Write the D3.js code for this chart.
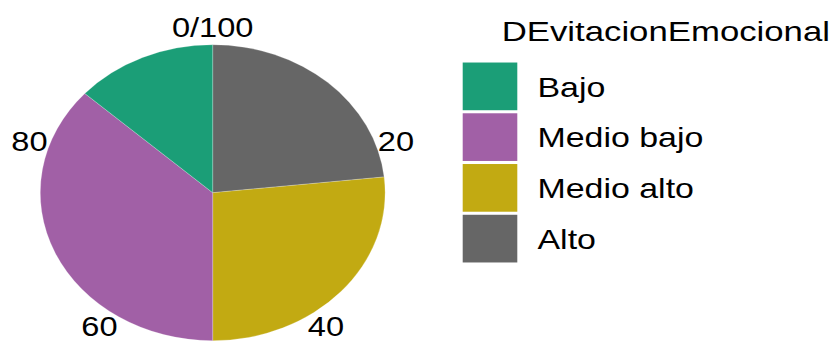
<!DOCTYPE html>
<html>
<head>
<meta charset="utf-8">
<script src="https://cdn.jsdelivr.net/npm/d3@7"></script>
<style>
  html, body { margin: 0; padding: 0; background: #fff; }
  svg { display: block; }
  text { font-family: "Liberation Sans", Arial, Helvetica, sans-serif; fill: #000; }
</style>
</head>
<body>
<svg id="chart" width="833" height="341"></svg>
<script>
// Share of each level (%), in stacking order clockwise from the top
const categories = ["Alto", "Medio alto", "Medio bajo", "Bajo"];
const values = [23.3, 26.7, 36.7, 13.3];
const legendOrder = ["Bajo", "Medio bajo", "Medio alto", "Alto"];
const colors = ["#666666", "#C2AA12", "#A160A6", "#1B9E77"];
const tickValues = [0, 20, 40, 60, 80];
const tickLabels = ["0/100", "20", "40", "60", "80"];
const legendTitle = "DEvitacionEmocional";

const svg = d3.select("#chart");
const sx = 1.165;            // horizontal stretch of the whole figure
const cx = 212.7, cy = 192.7, r = 148;

const color = d3.scaleOrdinal().domain(categories).range(colors);
const theta = d3.scaleLinear().domain([0, 100]).range([0, 2 * Math.PI]);

const data = categories.map((c, i) => ({ cat: c, value: values[i] }));
const pie = d3.pie().sort(null).value(d => d.value)
  .startAngle(theta(0)).endAngle(theta(100));
const arc = d3.arc().innerRadius(0).outerRadius(r);

const g = svg.append("g").attr("transform", `translate(${cx},${cy}) scale(${sx},1)`);
g.selectAll("path").data(pie(data)).join("path")
  .attr("d", arc)
  .attr("fill", d => color(d.data.cat))
  .attr("stroke", "#ffffff")
  .attr("stroke-opacity", 0.35)
  .attr("stroke-width", 0.6);

// angular axis labels
const rlx = 192.7 / sx, rly = 166;
svg.append("g").selectAll("text").data(tickValues).join("text")
  .attr("transform", d => {
    const a = theta(d);
    const x = cx + rlx * sx * Math.sin(a);
    const y = cy - rly * Math.cos(a) - (Math.cos(a) < -0.5 ? 1 : 0);
    return `translate(${x},${y}) scale(${sx + 0.02},1)`;
  })
  .attr("text-anchor", "middle")
  .attr("dy", "0.36em")
  .style("font-size", "27.5px")
  .text((d, i) => tickLabels[i]);

// legend
const lg = svg.append("g");
lg.append("text")
  .attr("transform", `translate(501.7,41) scale(1.22,1)`)
  .style("font-size", "28.5px")
  .text(legendTitle);

const keyY = d3.scaleBand().domain(legendOrder).range([61, 264]).paddingInner(0.06).paddingOuter(0.03);
const items = lg.selectAll("g.item").data(legendOrder).join("g").attr("class", "item");
items.append("rect")
  .attr("x", 462.7)
  .attr("y", d => keyY(d))
  .attr("width", 54.6)
  .attr("height", keyY.bandwidth())
  .attr("fill", d => color(d));
items.append("text")
  .attr("transform", d => `translate(537.5,${keyY(d) + keyY.bandwidth() / 2}) scale(${sx + 0.025},1)`)
  .attr("dy", "0.36em")
  .style("font-size", "28.5px")
  .text(d => d);
</script>
</body>
</html>
